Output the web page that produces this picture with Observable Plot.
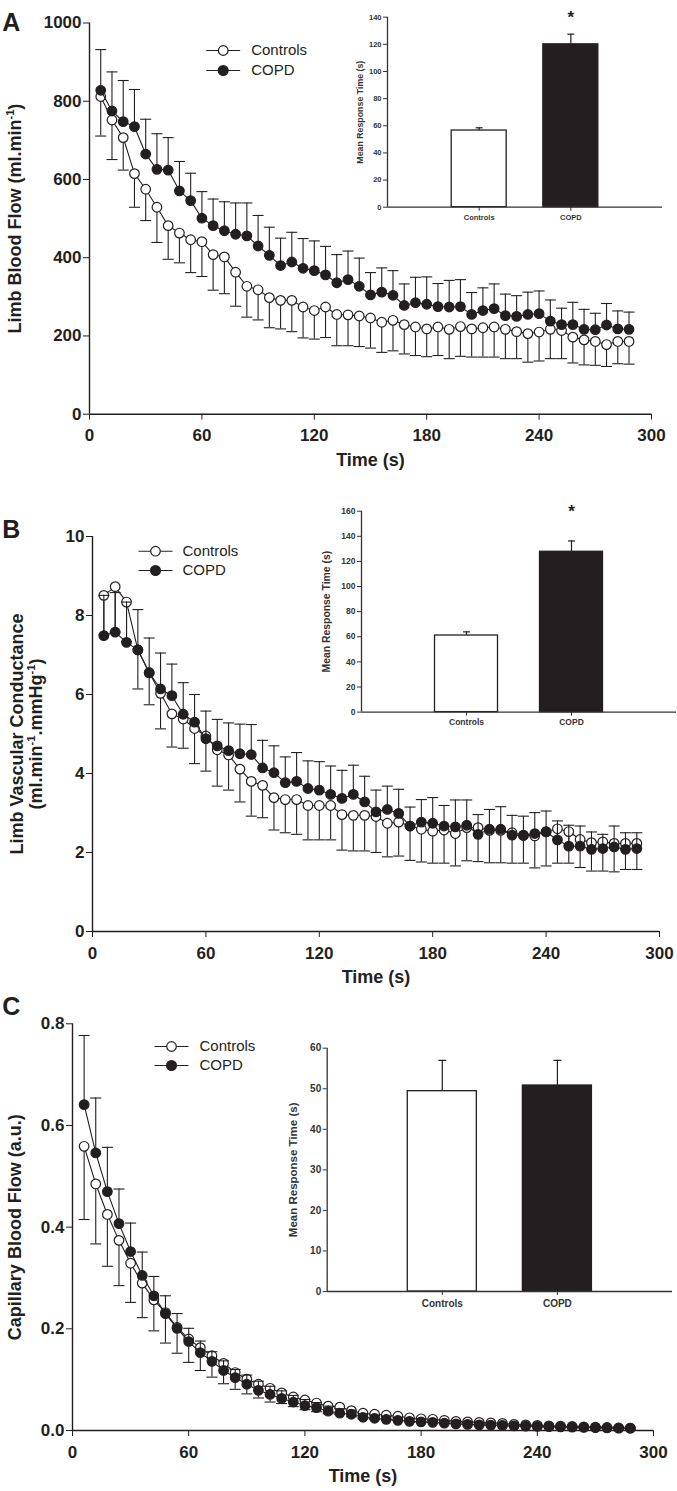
<!DOCTYPE html>
<html><head><meta charset="utf-8">
<script src="https://cdn.jsdelivr.net/npm/d3@7"></script>
<script src="https://cdn.jsdelivr.net/npm/@observablehq/plot@0.6"></script>
<style>
body{margin:0;background:#fff;}
#root{position:relative;width:677px;height:1491px;overflow:hidden;background:#fff;}
#root svg{position:absolute;}
</style></head><body><div id="root"></div>
<script>
// ---------- data ----------
const time = [6,12,18,24,30,36,42,48,54,60,66,72,78,84,90,96,102,108,114,120,126,132,138,144,150,156,162,168,174,180,186,192,198,204,210,216,222,228,234,240,246,252,258,264,270,276,282,288];

const aControls = [812,752,707,615,575,529,482,463,446,441,408,402,363,327,318,298,291,291,274,265,274,255,254,251,246,235,240,229,223,218,223,217,224,218,221,223,217,211,206,210,217,214,197,190,186,178,186,186];
const aControlsSE = [101,101,83,86,80,90,86,76,84,89,91,94,87,79,77,77,73,80,79,73,78,80,79,78,77,77,78,75,73,71,73,75,76,72,75,77,75,69,73,74,75,72,66,64,61,56,57,58];
const aCOPD = [828,775,748,735,665,626,624,571,546,501,482,469,460,456,430,406,380,389,373,367,356,336,344,327,305,312,304,278,285,281,275,274,275,255,265,270,252,250,255,257,238,229,229,217,216,228,218,217];
const aCOPDSE = [104,100,105,95,89,91,83,75,70,68,68,74,80,84,78,72,70,76,76,76,73,72,73,72,57,62,63,55,65,70,59,68,69,56,58,63,55,53,57,58,54,42,57,51,42,55,46,44];

const bControls = [8.51,8.73,8.34,7.13,6.55,6.03,5.51,5.38,5.14,4.95,4.60,4.47,4.11,3.80,3.70,3.39,3.34,3.34,3.19,3.19,3.19,2.96,2.94,2.94,2.91,2.74,2.77,2.67,2.59,2.54,2.57,2.48,2.63,2.63,2.56,2.56,2.50,2.44,2.42,2.53,2.60,2.53,2.33,2.25,2.27,2.23,2.23,2.23];
const bControlsSE = [1.00,1.15,1.00,0.99,0.81,0.90,0.84,0.74,0.89,0.89,0.92,0.89,0.83,0.88,0.82,0.82,0.84,0.88,0.87,0.87,0.87,0.90,0.90,0.90,0.91,0.85,0.86,0.87,0.83,0.81,0.84,0.82,0.84,0.86,0.82,0.82,0.77,0.71,0.81,0.87,0.87,0.80,0.71,0.72,0.74,0.72,0.66,0.66];
const bCOPD = [7.49,7.58,7.32,7.13,6.55,6.14,5.97,5.50,5.30,4.88,4.70,4.58,4.50,4.48,4.14,4.02,3.77,3.80,3.62,3.58,3.47,3.37,3.47,3.28,3.03,3.09,2.99,2.67,2.77,2.74,2.67,2.65,2.69,2.46,2.59,2.59,2.44,2.43,2.48,2.52,2.32,2.16,2.16,2.08,2.10,2.14,2.08,2.10];
const bCOPDSE = [1.02,1.00,1.02,1.02,0.88,0.91,0.80,0.80,0.70,0.70,0.67,0.70,0.75,0.76,0.70,0.68,0.65,0.73,0.70,0.72,0.72,0.71,0.74,0.65,0.55,0.59,0.61,0.48,0.57,0.65,0.52,0.68,0.64,0.50,0.50,0.57,0.50,0.49,0.53,0.53,0.48,0.53,0.51,0.44,0.36,0.53,0.42,0.40];

const cControls = [0.559,0.485,0.425,0.374,0.329,0.290,0.257,0.232,0.203,0.180,0.163,0.147,0.132,0.114,0.101,0.091,0.083,0.074,0.066,0.060,0.054,0.048,0.046,0.039,0.034,0.032,0.030,0.028,0.025,0.023,0.022,0.020,0.018,0.017,0.016,0.015,0.014,0.012,0.011,0.010,0.009,0.0085,0.008,0.007,0.0066,0.006,0.005,0.0046];
const cControlsSE = [0.144,0.118,0.102,0.089,0.077,0.068,0.061,0.060,0.051,0.046,0.045,0.042,0.040,0.033,0.029,0.027,0.027,0.021,0.019,0.019,0.017,0.015,0.014,0.012,0.011,0.010,0.009,0.008,0.008,0.007,0.006,0.006,0.005,0.005,0.005,0.004,0.004,0.004,0.003,0.003,0.003,0.003,0.003,0.002,0.002,0.002,0.002,0.002];
const cCOPD = [0.641,0.546,0.470,0.407,0.352,0.305,0.265,0.230,0.201,0.175,0.153,0.136,0.118,0.104,0.091,0.079,0.071,0.063,0.056,0.049,0.045,0.038,0.034,0.032,0.026,0.024,0.022,0.020,0.018,0.017,0.016,0.0145,0.013,0.012,0.011,0.0105,0.010,0.009,0.0085,0.008,0.0075,0.007,0.0065,0.006,0.0055,0.005,0.0048,0.0045];
const cCOPDSE = [0.136,0.108,0.087,0.068,0.056,0.046,0.038,0.035,0.029,0.026,0.023,0.019,0.019,0.016,0.018,0.018,0.016,0.015,0.013,0.012,0.010,0.010,0.009,0.008,0.007,0.006,0.006,0.005,0.005,0.005,0.004,0.004,0.004,0.004,0.003,0.003,0.003,0.003,0.003,0.003,0.002,0.002,0.002,0.002,0.002,0.002,0.002,0.002];

const groups = ["Controls", "COPD"];
const insetAMean = [56.5, 120.0];
const insetASE = [2.0, 7.5];
const insetAStar = ["", "*"];
const insetBMean = [61.0, 127.7];
const insetBSE = [2.9, 8.6];
const insetBStar = ["", "*"];
const insetCMean = [49.4, 50.8];
const insetCSE = [7.6, 6.2];
const insetCStar = ["", ""];

const xTicks = [0, 60, 120, 180, 240, 300];
const aTicks = [0, 200, 400, 600, 800, 1000];
const bTicks = [0, 2, 4, 6, 8, 10];
const cTicks = [0, 0.2, 0.4, 0.6, 0.8];

// ---------- helpers ----------
const ink = "#231f20";
const FONT = "'Liberation Sans', Arial, Helvetica, sans-serif";
const hSeg = (w) => ({draw(ctx) { ctx.moveTo(-w, 0); ctx.lineTo(w, 0); }});

function supify(svg) {
  d3.select(svg).selectAll("text").each(function () {
    const s = this.textContent;
    if (!s.includes("^")) return;
    const fs = parseFloat(this.getAttribute("font-size")) || 18;
    const parts = s.split(/\^(-1)/);
    this.textContent = "";
    let shifted = false;
    parts.forEach((p, i) => {
      if (!p) return;
      const ts = d3.select(this).append("tspan").text(p);
      if (i % 2 === 1) {
        ts.attr("font-size", fs * 0.62).attr("dy", -fs * 0.42);
        shifted = true;
      } else if (shifted) {
        ts.attr("dy", fs * 0.42);
        shifted = false;
      }
    });
  });
  return svg;
}

function mainPanel(o) {
  const ctl = time.map((t, i) => ({t, m: o.ctl[i], se: o.ctlSE[i]}));
  const cpd = time.map((t, i) => ({t, m: o.cpd[i], se: o.cpdSE[i]}));
  const marks = [
    Plot.line(ctl, {x: "t", y: "m", stroke: ink, strokeWidth: 1.1}),
    Plot.ruleX(ctl, {x: "t", y1: "m", y2: d => d.m - d.se, stroke: ink, strokeWidth: 1.1}),
    Plot.dot(ctl, {x: "t", y: d => d.m - d.se, symbol: hSeg(5.5), fill: "none", stroke: ink, strokeWidth: 1.1}),
    Plot.dot(ctl, {x: "t", y: "m", r: 4.8, fill: "white", stroke: ink, strokeWidth: 1.2}),
    Plot.line(cpd, {x: "t", y: "m", stroke: ink, strokeWidth: 1.1}),
    Plot.ruleX(cpd, {x: "t", y1: "m", y2: d => d.m + d.se, stroke: ink, strokeWidth: 1.1}),
    Plot.dot(cpd, {x: "t", y: d => d.m + d.se, symbol: hSeg(5.5), fill: "none", stroke: ink, strokeWidth: 1.1}),
    Plot.dot(cpd, {x: "t", y: "m", r: 4.8, fill: ink, stroke: ink, strokeWidth: 1.2}),
    Plot.ruleY([0], {stroke: ink, strokeWidth: 1.4}),
    Plot.ruleX([0], {stroke: ink, strokeWidth: 1.4}),
    // legend
    Plot.dot([0], {frameAnchor: "top-left", dx: o.leg.dx, dy: o.leg.dy1, symbol: hSeg(17), fill: "none", stroke: ink, strokeWidth: 1.1}),
    Plot.dot([0], {frameAnchor: "top-left", dx: o.leg.dx, dy: o.leg.dy1, r: 4.8, fill: "white", stroke: ink, strokeWidth: 1.2}),
    Plot.dot([0], {frameAnchor: "top-left", dx: o.leg.dx, dy: o.leg.dy2, symbol: hSeg(17), fill: "none", stroke: ink, strokeWidth: 1.1}),
    Plot.dot([0], {frameAnchor: "top-left", dx: o.leg.dx, dy: o.leg.dy2, r: 4.8, fill: ink, stroke: ink}),
    Plot.text([groups[0]], {text: d => d, frameAnchor: "top-left", dx: o.leg.tx, dy: o.leg.dy1, textAnchor: "start", lineAnchor: "middle", fontSize: 15, fontWeight: "normal", fill: ink}),
    Plot.text([groups[1]], {text: d => d, frameAnchor: "top-left", dx: o.leg.tx, dy: o.leg.dy2, textAnchor: "start", lineAnchor: "middle", fontSize: 15, fontWeight: "normal", fill: ink}),
    // axis titles
    Plot.text(["Time (s)"], {text: d => d, frameAnchor: "bottom", dy: 46, lineAnchor: "middle", fontSize: 18, fontWeight: "bold", fill: ink}),
    Plot.text([o.letter], {text: d => d, frameAnchor: "top-left", dx: o.letterDx, dy: o.letterDy, textAnchor: "start", lineAnchor: "top", fontSize: 25, fontWeight: "bold", fill: ink})
  ];
  o.ytitles.forEach(([s, dx]) => marks.push(
    Plot.text([s], {text: d => d, frameAnchor: "left", dx, rotate: -90, textAnchor: "middle", lineAnchor: "middle", fontSize: 18, fontWeight: "bold", fill: ink})
  ));
  const svg = Plot.plot({
    width: 677, height: o.height,
    marginLeft: o.ml, marginRight: o.mr, marginTop: o.mt, marginBottom: o.mb,
    style: {fontFamily: FONT, fontSize: "17px", fontWeight: "bold", color: ink, background: "transparent", overflow: "visible"},
    x: {domain: [0, 300], ticks: xTicks, tickSize: 6, tickPadding: 9, label: null, tickFormat: d => String(d)},
    y: {domain: o.ydomain, ticks: o.yticks, tickSize: 6, tickPadding: 2, label: null, tickFormat: o.yfmt},
    marks
  });
  svg.style.left = "0px";
  svg.style.top = o.top + "px";
  return supify(svg);
}

function insetPanel(o) {
  const data = groups.map((g, i) => ({g, i: i + 1, m: o.mean[i], se: o.se[i], star: o.star[i]}));
  const svg = Plot.plot({
    width: o.width, height: o.height,
    marginLeft: o.ml, marginRight: o.mr, marginTop: o.mt, marginBottom: o.mb,
    style: {fontFamily: FONT, fontSize: o.fs + "px", fontWeight: "bold", color: "#333", background: "transparent", overflow: "visible"},
    x: {domain: [0, 3], ticks: [1, 2], tickFormat: i => groups[i - 1], tickSize: 4, tickPadding: o.xpad, label: null},
    y: {domain: [0, o.max], ticks: o.ticks, tickSize: 4, tickPadding: 2, label: null, tickFormat: d => String(d)},
    marks: [
      Plot.ruleX(data, {x: "i", y1: "m", y2: d => d.m + d.se, stroke: ink, strokeWidth: 1.2}),
      Plot.dot(data, {x: "i", y: d => d.m + d.se, symbol: hSeg(o.cap), fill: "none", stroke: ink, strokeWidth: 1.2}),
      Plot.rectY(data.filter(d => d.g === "Controls"), {x1: d => d.i - 0.3, x2: d => d.i + 0.3, y: "m", fill: "white", stroke: ink, strokeWidth: 1.3}),
      Plot.rectY(data.filter(d => d.g === "COPD"), {x1: d => d.i - 0.3, x2: d => d.i + 0.3, y: "m", fill: ink, stroke: ink, strokeWidth: 1.3}),
      Plot.ruleY([0], {stroke: "#333", strokeWidth: 1.3}),
      Plot.ruleX([0], {stroke: "#333", strokeWidth: 1.3}),
      Plot.text(data, {x: "i", y: o.max, text: "star", fontSize: 17, lineAnchor: "middle", fill: ink}),
      Plot.text(["Mean Response Time (s)"], {text: d => d, frameAnchor: "left", dx: o.tdx, rotate: -90, textAnchor: "middle", lineAnchor: "middle", fontSize: o.tfs, fill: "#333"})
    ]
  });
  svg.style.left = o.left + "px";
  svg.style.top = o.top + "px";
  return svg;
}

const root = document.getElementById("root");

root.appendChild(mainPanel({
  top: 0, height: 475, ml: 89, mr: 26, mt: 22.5, mb: 61.3,
  ctl: aControls, ctlSE: aControlsSE, cpd: aCOPD, cpdSE: aCOPDSE,
  ydomain: [0, 1000], yticks: aTicks, yfmt: d => String(d),
  leg: {dx: 133.7, tx: 161.7, dy1: 27.5, dy2: 47.5},
  letter: "A", letterDx: -87.3, letterDy: -9.8,
  ytitles: [["Limb Blood Flow (ml.min^-1)", -74]]
}));
root.appendChild(mainPanel({
  top: 480, height: 510, ml: 92, mr: 18, mt: 56, mb: 59,
  ctl: bControls, ctlSE: bControlsSE, cpd: bCOPD, cpdSE: bCOPDSE,
  ydomain: [0, 10], yticks: bTicks, yfmt: d => String(d),
  leg: {dx: 63, tx: 90, dy1: 14.7, dy2: 34},
  letter: "B", letterDx: -90.3, letterDy: -16.7,
  ytitles: [["Limb Vascular Conductance", -75.3], ["(ml.min^-1.mmHg^-1)", -56]]
}));
root.appendChild(mainPanel({
  top: 985, height: 506, ml: 72, mr: 24, mt: 38.3, mb: 61,
  ctl: cControls, ctlSE: cControlsSE, cpd: cCOPD, cpdSE: cCOPDSE,
  ydomain: [0, 0.8], yticks: cTicks, yfmt: d3.format(".1f"),
  leg: {dx: 99, tx: 127, dy1: 22.7, dy2: 41.7},
  letter: "C", letterDx: -70.3, letterDy: -26.6,
  ytitles: [["Capillary Blood Flow (a.u.)", -57]]
}));

root.appendChild(insetPanel({
  left: 330, top: 0, width: 340, height: 230, ml: 57, mr: 8, mt: 16.7, mb: 23.3,
  mean: insetAMean, se: insetASE, star: insetAStar, max: 140, ticks: d3.range(0, 141, 20),
  fs: 7.5, tfs: 8.8, tdx: -27, cap: 3.5, xpad: 3
}));
root.appendChild(insetPanel({
  left: 290, top: 480, width: 387, height: 275, ml: 71, mr: 1, mt: 30.7, mb: 43.4,
  mean: insetBMean, se: insetBSE, star: insetBStar, max: 160, ticks: d3.range(0, 161, 20),
  fs: 8.5, tfs: 10.4, tdx: -35, cap: 3.5, xpad: 3
}));
root.appendChild(insetPanel({
  left: 260, top: 1030, width: 417, height: 290, ml: 66.7, mr: 5, mt: 17.7, mb: 29,
  mean: insetCMean, se: insetCSE, star: insetCStar, max: 60, ticks: d3.range(0, 61, 10),
  fs: 10, tfs: 11.5, tdx: -33.7, cap: 4, xpad: 4
}));
</script></body></html>
